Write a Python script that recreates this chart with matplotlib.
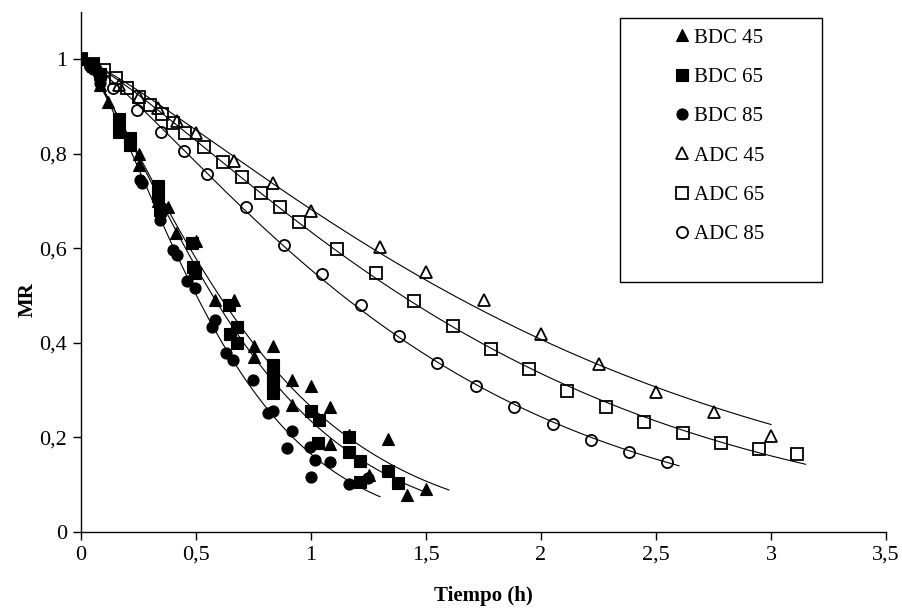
import numpy as np
import matplotlib
matplotlib.use('Agg')
import matplotlib.pyplot as plt
from matplotlib.patches import Rectangle
from matplotlib.ticker import FuncFormatter

plt.rcParams['font.family'] = ['Liberation Serif', 'DejaVu Serif']

# ---------------- data ----------------
bdc45_t = [0, 0.05, 0.083, 0.117, 0.25, 0.25, 0.333, 0.38, 0.413, 0.5, 0.583, 0.667,
           0.75, 0.833, 0.75, 0.917, 1.0, 0.917, 1.083, 1.167, 1.083, 1.333, 1.25, 1.417, 1.5]
bdc45_mr = [1, 0.985, 0.946, 0.91, 0.80, 0.777, 0.70, 0.688, 0.632, 0.615, 0.491, 0.491,
            0.394, 0.394, 0.371, 0.322, 0.309, 0.269, 0.265, 0.205, 0.186, 0.196, 0.121, 0.078, 0.092]

bdc65_t = [0, 0.05, 0.083, 0.167, 0.167, 0.213, 0.213, 0.333, 0.333, 0.343, 0.481, 0.488,
           0.496, 0.645, 0.68, 0.648, 0.68, 0.833, 0.833, 0.833, 0.833, 1.0, 1.036, 1.032,
           1.167, 1.167, 1.213, 1.333, 1.38, 1.213]
bdc65_mr = [1, 0.99, 0.968, 0.873, 0.847, 0.833, 0.819, 0.731, 0.71, 0.681, 0.611, 0.561,
            0.547, 0.48, 0.434, 0.419, 0.399, 0.353, 0.33, 0.31, 0.293, 0.255, 0.237, 0.188,
            0.2, 0.17, 0.151, 0.128, 0.103, 0.106]

bdc85_t = [0, 0.05, 0.083, 0.167, 0.258, 0.264, 0.343, 0.35, 0.401, 0.416, 0.462, 0.496,
           0.568, 0.583, 0.63, 0.662, 0.749, 0.814, 0.833, 0.916, 0.897, 0.996, 1.017, 1.083,
           0.999, 1.167, 1.249]
bdc85_mr = [1, 0.98, 0.95, 0.86, 0.745, 0.738, 0.66, 0.685, 0.597, 0.586, 0.53, 0.516,
            0.434, 0.449, 0.378, 0.364, 0.322, 0.251, 0.255, 0.214, 0.177, 0.18, 0.152, 0.149,
            0.117, 0.101, 0.114]

adc45_t = [0, 0.083, 0.167, 0.25, 0.333, 0.417, 0.5, 0.667, 0.833, 1.0, 1.3, 1.5, 1.75,
           2.0, 2.25, 2.5, 2.75, 3.0]
adc45_mr = [1, 0.975, 0.945, 0.92, 0.897, 0.87, 0.845, 0.784, 0.738, 0.68, 0.602, 0.549,
            0.491, 0.419, 0.355, 0.296, 0.253, 0.203]

adc65_t = [0, 0.05, 0.1, 0.15, 0.2, 0.25, 0.3, 0.35, 0.4, 0.45, 0.533, 0.616, 0.699, 0.781,
           0.865, 0.948, 1.114, 1.283, 1.448, 1.616, 1.783, 1.949, 2.114, 2.283, 2.449,
           2.616, 2.783, 2.949, 3.115]
adc65_mr = [1, 0.99, 0.978, 0.96, 0.939, 0.921, 0.904, 0.885, 0.865, 0.845, 0.814, 0.782,
            0.75, 0.717, 0.687, 0.655, 0.598, 0.547, 0.489, 0.436, 0.387, 0.344, 0.299,
            0.265, 0.233, 0.21, 0.189, 0.176, 0.166]

adc85_t = [0, 0.041, 0.141, 0.245, 0.346, 0.448, 0.549, 0.716, 0.883, 1.049, 1.216, 1.383,
           1.549, 1.716, 1.883, 2.051, 2.216, 2.383, 2.549]
adc85_mr = [1, 0.985, 0.939, 0.893, 0.847, 0.805, 0.757, 0.687, 0.607, 0.546, 0.48, 0.415,
            0.357, 0.309, 0.265, 0.229, 0.195, 0.169, 0.148]

labels = ['BDC 45', 'BDC 65', 'BDC 85', 'ADC 45', 'ADC 65', 'ADC 85']
fit_end = [1.6, 1.5, 1.3, 3.0, 3.15, 2.6]   # end of fitted curve (h)

xticks = [0, 0.5, 1, 1.5, 2, 2.5, 3, 3.5]
yticks = [0, 0.2, 0.4, 0.6, 0.8, 1.0]


def fit_page(t, mr):
    """Page model MR = exp(-k t^n), least squares."""
    t = np.asarray(t, float)
    mr = np.asarray(mr, float)
    m = (t > 0) & (mr > 0) & (mr < 1)
    n, lnk = np.polyfit(np.log(t[m]), np.log(-np.log(mr[m])), 1)
    k = np.exp(lnk)
    tt, yy = t[t > 0], mr[t > 0]
    for _ in range(60):
        tn = tt ** n
        pred = np.exp(-k * tn)
        r = yy - pred
        J = np.column_stack([-tn * pred, -k * tn * np.log(tt) * pred])
        d, *_ = np.linalg.lstsq(J, r, rcond=None)
        k += d[0]
        n += d[1]
    return k, n


series = [(bdc45_t, bdc45_mr), (bdc65_t, bdc65_mr), (bdc85_t, bdc85_mr),
          (adc45_t, adc45_mr), (adc65_t, adc65_mr), (adc85_t, adc85_mr)]
markers = ['^', 's', 'o', '^', 's', 'o']
msizes = [8.5, 8, 8, 8.5, 8, 8]
filled = [True, True, True, False, False, False]

W, H = 903, 615
fig = plt.figure(figsize=(W / 100, H / 100), dpi=100)
ax = fig.add_axes([81 / W, 83 / H, 805 / W, 520 / H])

handles = []
for (t, mr), mk, ms, fl, lab, tend in zip(series, markers, msizes, filled, labels, fit_end):
    k, n = fit_page(t, mr)
    tc = np.linspace(0, tend, 300)
    ax.plot(tc, np.exp(-k * tc ** n), color='black', lw=0.8, zorder=2)
    if fl:
        h, = ax.plot(t, mr, ls='none', marker=mk, ms=ms, mfc='black', mec='black',
                     mew=0.8, label=lab, zorder=3)
    else:
        h, = ax.plot(t, mr, ls='none', marker=mk, ms=ms, mfc='none', mec='black',
                     mew=1.3, label=lab, zorder=3)
    handles.append(h)

ax.set_xlim(0, 3.5)
ax.set_ylim(0, 1.1)
ax.set_xticks(xticks)
ax.set_yticks(yticks)
fmt = FuncFormatter(lambda v, _: ('%g' % v).replace('.', ','))
ax.xaxis.set_major_formatter(fmt)
ax.yaxis.set_major_formatter(fmt)
ax.tick_params(direction='out', length=6, width=1, labelsize=16, pad=4)
for s in ['top', 'right']:
    ax.spines[s].set_visible(False)
for s in ['left', 'bottom']:
    ax.spines[s].set_linewidth(1.0)

ax.set_xlabel('Tiempo (h)', fontsize=15, fontweight='bold', va='center')
ax.xaxis.set_label_coords(0.5, -(596 - 532) / 520)
ax.set_ylabel('MR', fontsize=15, fontweight='bold', va='center')
ax.yaxis.set_label_coords(-(81 - 28) / 805, (532 - 300) / 520)

leg = ax.legend(handles=handles, loc='upper left', frameon=False, fontsize=15,
                bbox_to_anchor=(672 / W, 1 - 28 / H), bbox_transform=fig.transFigure,
                borderpad=0, borderaxespad=0, handlelength=1.0, handletextpad=0.05,
                labelspacing=0.95)
fig.patches.append(Rectangle((620 / W, 1 - 282 / H), 202 / W, 264 / H,
                             transform=fig.transFigure, fill=False, ec='black', lw=1.0))

fig.savefig('out.png', dpi=100)
